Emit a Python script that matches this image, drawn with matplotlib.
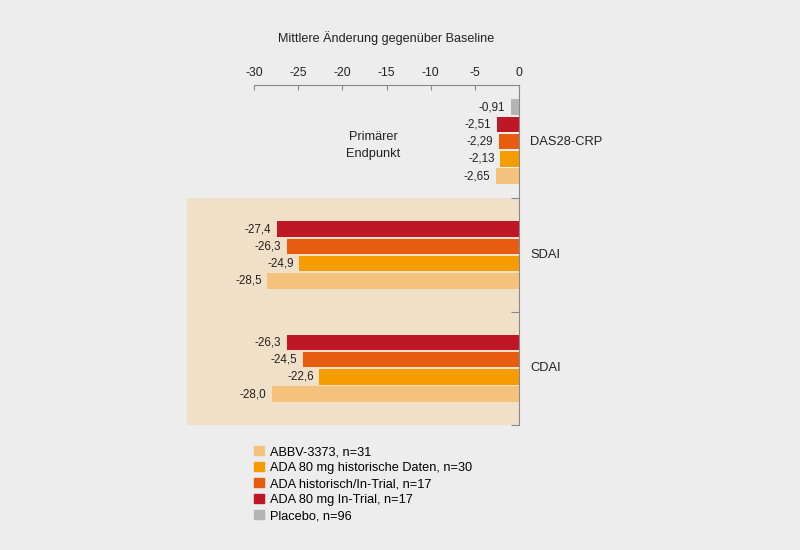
import matplotlib.pyplot as plt
from matplotlib.patches import Patch

plt.rcParams['font.family'] = ['Liberation Sans', 'DejaVu Sans']
plt.rcParams['axes.unicode_minus'] = False

groups = ["DAS28-CRP", "SDAI", "CDAI"]
series = ["Placebo, n=96", "ADA 80 mg In-Trial, n=17", "ADA historisch/In-Trial, n=17",
          "ADA 80 mg historische Daten, n=30", "ABBV-3373, n=31"]
colors = ["#b4b4b4", "#c01726", "#e85c0f", "#f59c00", "#f4c27d"]

das28 = [-0.91, -2.51, -2.29, -2.13, -2.65]
sdai = [None, -27.4, -26.3, -24.9, -28.5]
cdai = [None, -26.3, -24.5, -22.6, -28.0]
decimals = [2, 1, 1]

bg = "#ededed"
txtc = "#222222"
fig = plt.figure(figsize=(8, 5.5), dpi=100, facecolor=bg)
ax = fig.add_axes([187/800, 1-425/550, 332/800, 340/550])
ax.set_facecolor(bg)

ax.axhspan(1, 3, color="#f1e0c8", zorder=0, lw=0)

step = 0.152
h = 0.137
for gi, vals in enumerate([das28, sdai, cdai]):
    present = [i for i, v in enumerate(vals) if v is not None]
    n = len(present)
    for k, i in enumerate(present):
        y = gi + 0.5 + (k - (n - 1) / 2) * step
        v = vals[i]
        ax.barh(y, v, height=h, color=colors[i], zorder=2)
        txt = f"{v:.{decimals[gi]}f}".replace(".", ",")
        ax.annotate(txt, (v, y), xytext=(-4, 0), textcoords="offset points",
                    ha="right", va="center", fontsize=8.4, color=txtc)
    ax.text(1.25, gi + 0.5, groups[gi], ha="left", va="center", fontsize=9.3,
            color=txtc, clip_on=False)

ax.text(-16.5, 0.53, "Primärer\nEndpunkt", ha="center", va="center", fontsize=9.2,
        color=txtc, linespacing=1.55)
ax.text(-15, -0.415, "Mittlere Änderung gegenüber Baseline", ha="center", va="center",
        fontsize=9.1, color=txtc, clip_on=False)

ax.set_xlim(-37.6, 0)
ax.set_ylim(3, 0)
ax.set_xticks(range(-30, 1, 5))
ax.set_yticks([1, 2, 3])
ax.set_yticklabels([])
ax.xaxis.tick_top()
ax.yaxis.tick_right()
ax.tick_params(axis="x", direction="in", length=3.5, color="#888888", labelsize=8.7,
               labelcolor=txtc, pad=4)
ax.tick_params(axis="y", direction="in", length=6, color="#888888")
for s in ["left", "bottom"]:
    ax.spines[s].set_visible(False)
for s in ["top", "right"]:
    ax.spines[s].set_color("#888888")
ax.spines["top"].set_bounds(-30, 0)

handles = [Patch(color=colors[i], label=series[i]) for i in [4, 3, 2, 1, 0]]
fig.legend(handles=handles, loc="upper left", bbox_to_anchor=(254/800, 1-446/550),
           frameon=False, fontsize=9.2, handlelength=0.75, handleheight=0.75,
           handletextpad=0.5, labelspacing=0.3, borderaxespad=0, borderpad=0)

fig.savefig("out.png", dpi=100, facecolor=bg)
